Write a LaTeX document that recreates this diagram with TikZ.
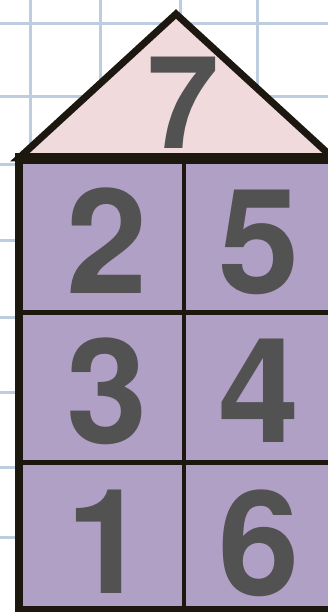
\documentclass[tikz,border=0pt]{standalone}
\usepackage{fontspec}
\setsansfont{TeX Gyre Heros}
\usepackage{tikz}
\usetikzlibrary{calc,positioning}
\usepackage{xcolor}
\definecolor{gridblue}{RGB}{190,204,224}
\definecolor{roofpink}{RGB}{240,218,220}
\definecolor{wallpurple}{RGB}{177,160,198}
\definecolor{edgeblack}{RGB}{28,24,16}
\definecolor{digitgray}{RGB}{82,82,82}

\begin{document}
\begin{tikzpicture}[x=1pt,y=-1pt,
    gridline/.style={gridblue,line width=3pt},
    edge/.style={edgeblack,line width=#1},
    digit/.style={inner sep=0pt,text=digitgray,font=\fontsize{146}{146}\selectfont\sffamily\bfseries}]
    \useasboundingbox (0,0) rectangle (328,612);
    \clip (0,0) rectangle (328,612);
    \fill[white] (0,0) rectangle (328,612);

    % Kertas berpetak
    \foreach \gx in {30,100,180,257}
        \draw[gridline] (\gx,0) -- (\gx,612);
    \foreach \gy in {24,97,165,240,317,392,467,537}
        \draw[gridline] (0,\gy) -- (328,\gy);

    % Atap
    \draw[edge=7pt,line join=miter,fill=roofpink] (19,158) -- (176,14) -- (333,158) -- cycle;
    \node[digit,font=\fontsize{129}{129}\selectfont\sffamily\bfseries] (seven) at (183,102.5) {7};

    % Badan rumah
    \draw[edge=8pt,fill=wallpurple] (19,159) rectangle (340,610);
    \draw[edge=11pt] (15,159) -- (340,159);
    \draw[edge=4pt] (184,159) -- (184,610);
    \draw[edge=5pt] (19,312) -- (340,312);
    \draw[edge=5pt] (19,462) -- (340,462);

    % Angka di petak
    \node[digit] (two) at (107,241) {2};
    \node[digit] (five) at (259,242) {5};
    \node[digit] (three) at (107,391) {3};
    \node[digit] (four) at (259,391) {4};
    \node[digit] (one) at (107,542) {1};
    \node[digit] (six) at (259,543) {6};
\end{tikzpicture}
\end{document}
